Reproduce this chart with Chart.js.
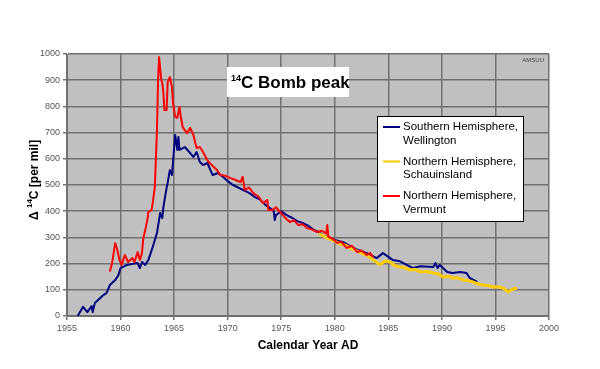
<!DOCTYPE html>
<html>
<head>
<meta charset="utf-8">
<script src="https://cdn.jsdelivr.net/npm/chart.js@4"></script>
<style>
  html, body { margin: 0; padding: 0; background: #ffffff; }
  #wrap { width: 600px; height: 369px; }
</style>
</head>
<body>
<div id="wrap"><canvas id="bombchart"></canvas></div>
<script>
// Southern Hemisphere, Wellington
const southYears = [1956.0,1956.5,1956.9,1957.3,1957.4,1957.6,1958.0,1958.4,1958.7,1959.0,1959.5,1959.8,1960.0,1960.6,1961.0,1961.6,1961.8,1962.0,1962.3,1962.6,1963.0,1963.4,1963.7,1963.9,1964.0,1964.3,1964.4,1964.6,1964.8,1965.1,1965.3,1965.4,1965.5,1966.0,1966.5,1966.8,1967.1,1967.4,1967.7,1968.1,1968.6,1969.1,1969.6,1970.0,1970.5,1971.0,1971.5,1972.0,1972.5,1973.0,1973.5,1974.0,1974.3,1974.4,1974.5,1975.0,1975.5,1976.0,1976.5,1977.0,1977.5,1978.0,1978.5,1979.0,1979.5,1980.0,1980.8,1981.5,1982.0,1983.0,1983.9,1984.5,1985.4,1986.0,1987.3,1988.0,1989.2,1989.4,1989.6,1989.8,1990.5,1991.0,1991.7,1992.3,1992.6,1993.3];
const southValues = [0,35,15,38,15,50,65,80,88,118,137,156,183,195,198,202,183,206,195,214,263,317,393,374,416,489,508,557,538,691,634,683,634,645,622,607,626,588,576,584,538,546,530,515,500,490,480,470,455,445,425,410,400,366,385,400,385,375,362,355,345,330,320,305,300,290,282,265,255,240,221,240,214,210,183,190,187,202,183,195,168,164,168,164,145,130];

// Northern Hemisphere, Schauinsland
const schauYears = [1978.5,1979.2,1979.8,1980.5,1981.0,1981.5,1982.0,1982.5,1983.0,1983.6,1984.2,1984.7,1985.2,1985.6,1986.1,1986.5,1987.0,1987.5,1988.0,1988.6,1989.2,1989.7,1990.1,1990.6,1991.0,1991.5,1992.0,1992.5,1992.9,1993.4,1993.8,1994.3,1994.8,1995.4,1995.8,1996.2,1996.6,1997.0];
const schauValues = [315,300,290,275,270,258,250,240,232,214,195,210,206,192,187,185,176,178,168,170,164,160,149,152,145,146,137,135,130,122,118,116,111,111,104,92,102,107];

// Northern Hemisphere, Vermunt
const vermYears = [1959.0,1959.2,1959.5,1959.7,1959.9,1960.1,1960.4,1960.7,1961.1,1961.3,1961.6,1961.8,1962.0,1962.1,1962.5,1962.6,1962.9,1963.0,1963.2,1963.4,1963.5,1963.6,1963.8,1963.9,1964.0,1964.1,1964.3,1964.4,1964.6,1964.8,1964.9,1965.1,1965.3,1965.5,1965.6,1965.8,1966.2,1966.5,1966.8,1967.1,1967.4,1967.7,1968.1,1968.5,1969.0,1969.3,1969.8,1970.2,1970.7,1971.2,1971.4,1971.6,1972.0,1972.4,1972.9,1973.3,1973.7,1973.8,1974.2,1974.5,1974.9,1975.3,1975.8,1976.2,1976.6,1977.0,1977.4,1977.9,1978.3,1978.8,1979.2,1979.3,1979.4,1979.8,1980.2,1980.6,1981.1,1981.6,1982.1,1982.5,1983.0,1983.3,1983.6];
const vermValues = [170,200,278,252,214,195,233,206,221,206,244,214,240,290,366,397,405,431,492,710,900,988,900,889,851,786,786,893,912,874,813,760,756,798,767,721,698,718,691,641,645,626,595,576,557,538,535,527,520,511,531,481,490,469,455,431,443,405,405,415,397,378,359,365,347,350,336,330,321,325,315,347,302,295,279,283,260,268,244,250,233,240,225];

const seriesLabels = [
    ['Southern Hemisphere,', 'Wellington'],
    ['Northern Hemisphere,', 'Schauinsland'],
    ['Northern Hemisphere,', 'Vermunt']
];
const xTicks = [1955,1960,1965,1970,1975,1980,1985,1990,1995,2000];
const yTicks = [0,100,200,300,400,500,600,700,800,900,1000];

const FONT = 'Arial, "Liberation Sans", sans-serif';
const pts = (xs, ys) => xs.map((x, i) => ({ x: x, y: ys[i] }));

// grey plot area like the old Excel charts
const plotBackground = {
    id: 'plotBackground',
    beforeDraw: (chart) => {
        const { ctx, chartArea: a } = chart;
        ctx.save();
        ctx.fillStyle = '#c0c0c0';
        ctx.fillRect(a.left, a.top, a.right - a.left, a.bottom - a.top);
        ctx.restore();
    }
};

const decorations = {
    id: 'decorations',
    afterDraw: (chart) => {
        const { ctx, chartArea: a } = chart;
        ctx.save();

        // title box
        ctx.fillStyle = '#ffffff';
        ctx.fillRect(227, 67, 122, 30);
        ctx.fillStyle = '#000000';
        ctx.textBaseline = 'alphabetic';
        ctx.textAlign = 'left';
        ctx.font = 'bold 9px ' + FONT;
        ctx.fillText('14', 231, 81);
        let w = ctx.measureText('14').width;
        ctx.font = 'bold 17px ' + FONT;
        ctx.fillText('C Bomb peak', 231 + w, 88);

        // small credit
        ctx.font = '6px ' + FONT;
        ctx.fillStyle = '#444444';
        ctx.textAlign = 'right';
        ctx.fillText('AMSUU', 544, 62);

        // x axis title
        ctx.fillStyle = '#000000';
        ctx.font = 'bold 12px ' + FONT;
        ctx.textAlign = 'center';
        ctx.fillText('Calendar Year AD', (a.left + a.right) / 2, 349);

        // y axis title, rotated, with superscript 14
        ctx.translate(38, 220);
        ctx.rotate(-Math.PI / 2);
        ctx.textAlign = 'left';
        ctx.font = 'bold 12px ' + FONT;
        ctx.fillText('\u0394', 0, 0);
        let x0 = ctx.measureText('\u0394 ').width;
        ctx.font = 'bold 8px ' + FONT;
        ctx.fillText('14', x0, -6);
        x0 += ctx.measureText('14').width;
        ctx.font = 'bold 12px ' + FONT;
        ctx.fillText('C [per mil]', x0, 0);
        ctx.setTransform(1, 0, 0, 1, 0, 0);

        // legend
        const lx = 377, ly = 116, lw = 146, lh = 105;
        ctx.fillStyle = '#ffffff';
        ctx.fillRect(lx, ly, lw, lh);
        ctx.strokeStyle = '#000000';
        ctx.lineWidth = 1;
        ctx.strokeRect(lx + 0.5, ly + 0.5, lw, lh);
        ctx.font = '11.5px ' + FONT;
        ctx.textBaseline = 'middle';
        ctx.textAlign = 'left';
        seriesLabels.forEach((lines, i) => {
            const ds = chart.data.datasets[i];
            const yy = 127 + i * 34.5;
            ctx.strokeStyle = ds.borderColor;
            ctx.lineWidth = 2;
            ctx.beginPath();
            ctx.moveTo(383, yy);
            ctx.lineTo(400, yy);
            ctx.stroke();
            ctx.fillStyle = '#000000';
            ctx.fillText(lines[0], 403, yy);
            ctx.fillText(lines[1], 403, yy + 13.5);
        });
        ctx.restore();
    }
};

new Chart(document.getElementById('bombchart'), {
    type: 'scatter',
    data: {
        datasets: [
            { label: seriesLabels[0].join(' '), data: pts(southYears, southValues), borderColor: '#000080', borderWidth: 2, order: 2 },
            { label: seriesLabels[1].join(' '), data: pts(schauYears, schauValues), borderColor: '#ffcc00', borderWidth: 3, order: 1 },
            { label: seriesLabels[2].join(' '), data: pts(vermYears, vermValues), borderColor: '#ff0000', borderWidth: 2, order: 0 }
        ].map(d => Object.assign(d, {
            showLine: true,
            pointRadius: 0,
            tension: 0,
            borderJoinStyle: 'round'
        }))
    },
    options: {
        responsive: true,
        maintainAspectRatio: false,
        animation: false,
        layout: { padding: { top: 54, left: 0, right: 51, bottom: 0 } },
        scales: {
            x: {
                type: 'linear',
                min: 1955,
                max: 2000,
                afterBuildTicks: (s) => { s.ticks = xTicks.map(v => ({ value: v })); },
                afterFit: (s) => { s.height = 53; },
                grid: { color: '#707070', lineWidth: 1.5, tickLength: 4 },
                border: { color: '#707070', width: 1 },
                ticks: { color: '#555555', font: { family: FONT, size: 9 }, padding: 3, maxRotation: 0,
                         callback: (v) => String(v) }
            },
            y: {
                min: 0,
                max: 1000,
                afterBuildTicks: (s) => { s.ticks = yTicks.map(v => ({ value: v })); },
                afterFit: (s) => { s.width = 67; },
                grid: { color: '#707070', lineWidth: 1.5, tickLength: 4 },
                border: { color: '#707070', width: 1 },
                ticks: { color: '#555555', font: { family: FONT, size: 9 }, padding: 3,
                         callback: (v) => String(v) }
            }
        },
        plugins: {
            legend: { display: false },
            tooltip: { enabled: false }
        }
    },
    plugins: [plotBackground, decorations]
});
</script>
</body>
</html>
